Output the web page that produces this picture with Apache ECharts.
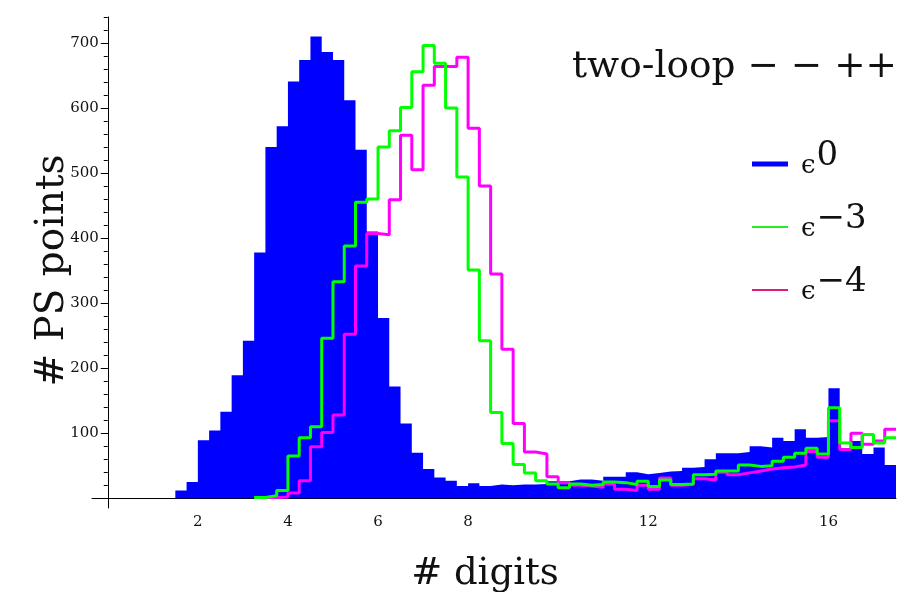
<!DOCTYPE html>
<html lang="en">
<head>
<meta charset="UTF-8">
<title>two-loop digits</title>
<script src="https://cdn.jsdelivr.net/npm/echarts@6/dist/echarts.min.js"></script>
<style>
html,body{margin:0;padding:0;background:#fff}
#main{width:897px;height:592px}
</style>
</head>
<body>
<div id="main"></div>
<script>
// bin edges of the histograms (width 0.25 digits)
var binEdges = [1.5, 1.75, 2, 2.25, 2.5, 2.75, 3, 3.25, 3.5, 3.75, 4, 4.25, 4.5, 4.75, 5, 5.25,
  5.5, 5.75, 6, 6.25, 6.5, 6.75, 7, 7.25, 7.5, 7.75, 8, 8.25, 8.5, 8.75, 9, 9.25,
  9.5, 9.75, 10, 10.25, 10.5, 10.75, 11, 11.25, 11.5, 11.75, 12, 12.25, 12.5, 12.75, 13, 13.25,
  13.5, 13.75, 14, 14.25, 14.5, 14.75, 15, 15.25, 15.5, 15.75, 16, 16.25, 16.5, 16.75, 17, 17.25, 17.5];

// counts per bin, one value per bin (null = empty)
var eps0 = [12, 25, 89, 104, 133, 189, 242, 378, 540, 572, 641, 674, 710, 686, 674, 612,
  536, 410, 277, 172, 115, 70, 45, 32, 27, 19, 23, 19, 21, 20, 21, 21,
  22, 26, 26, 29, 29, 27, 33, 33, 40, 37, 39, 41, 42, 47, 48, 60,
  69, 69, 71, 80, 78, 93, 88, 106, 93, 94, 169, 76, 88, 68, 78, 51];
var eps3 = [null, null, null, null, null, null, null, 1, 4, 12, 65, 93, 110, 246, 333, 388,
  455, 460, 540, 565, 601, 656, 696, 669, 600, 494, 351, 242, 132, 84, 52, 39,
  27, 22, 16, 22, 20, 21, 25, 24, 21, 26, 18, 28, 21, 22, 36, 37,
  42, 42, 51, 49, 50, 57, 63, 69, 77, 68, 139, 85, 78, 98, 85, 93];
var eps4 = [null, null, null, null, null, null, null, null, 1, 2, 8, 27, 79, 101, 128, 252,
  357, 407, 405, 459, 558, 505, 635, 664, 664, 678, 569, 480, 345, 229, 115, 71,
  68, 33, 24, 20, 19, 17, 22, 14, 12, 20, 14, 31, 20, 21, 30, 28,
  40, 36, 39, 42, 45, 47, 48, 51, 72, 63, 119, 75, 100, 83, 88, 106];

var xTicks = [2, 4, 6, 8, 12, 16];
var yTicks = [100, 200, 300, 400, 500, 600, 700];
var yMinorTicks = [];
for (var t = 20; t <= 740; t += 20) yMinorTicks.push(t);

var serif = 'DejaVu Serif';
var sup = {'e0': '0', 'e3': '\u22123', 'e4': '\u22124'};

// x range starts a bit left of 0 so the x axis line pokes out past the y axis
var xMin = -0.35, xMax = 17.5;
var gridLeft = 92, gridRight = 1, chartWidth = 897;
// second y axis (labels, major ticks) has to sit at x = 0 too
var yAxisShift = -(0 - xMin) / (xMax - xMin) * (chartWidth - gridLeft - gridRight);

// step outline: point at every left edge, plus the last right edge
function steps(vals) {
  var pts = [], last = null;
  for (var i = 0; i < vals.length; i++) {
    if (vals[i] == null) continue;
    pts.push([binEdges[i], vals[i]]);
    last = vals[i];
  }
  pts.push([binEdges[binEdges.length - 1], last]);
  return pts;
}

var chart = echarts.init(document.getElementById('main'));
var option = {
  animation: false,
  title: {
    text: 'two-loop \u2212 \u2212 ++',
    right: -5, top: 43,
    textStyle: {fontFamily: serif, fontSize: 37.5, fontWeight: 'normal', color: '#111'}
  },
  // legend sample bars are drawn as rich-text boxes so each can have its own thickness
  legend: {
    orient: 'vertical', left: 747, top: 139, padding: 0,
    icon: 'none', itemWidth: 0, itemHeight: 14, itemGap: 22,
    data: ['e0', 'e3', 'e4'],
    formatter: function (name) { return '{' + name + '| }{e|\u03f5}{s|' + sup[name] + '}'; },
    textStyle: {
      rich: {
        e0: {width: 36, height: 5, lineHeight: 32, backgroundColor: '#0000ff', verticalAlign: 'middle'},
        e3: {width: 36, height: 2, lineHeight: 32, backgroundColor: '#22ee22', verticalAlign: 'middle'},
        e4: {width: 36, height: 2, lineHeight: 32, backgroundColor: '#e3197d', verticalAlign: 'middle'},
        e: {fontFamily: serif, fontSize: 26, color: '#111', verticalAlign: 'bottom', lineHeight: 32, padding: [0, 1, 1, 13]},
        s: {fontFamily: serif, fontSize: 34, color: '#111', verticalAlign: 'bottom', lineHeight: 32, padding: [0, 0, 7, 0]}
      }
    }
  },
  grid: {left: gridLeft, right: gridRight, top: 17, bottom: 84, outerBoundsMode: 'none', containLabel: false},
  xAxis: {
    type: 'value', min: xMin, max: xMax,
    splitLine: {show: false},
    axisLine: {onZero: true, onZeroAxisIndex: 0, lineStyle: {color: '#000', width: 1}},
    axisTick: {inside: true, length: 8, customValues: xTicks, lineStyle: {color: '#000'}},
    axisLabel: {customValues: xTicks, margin: 7, fontFamily: serif, fontSize: 15, color: '#111'},
    name: '# digits', nameLocation: 'middle', nameGap: 48, nameMoveOverlap: false,
    nameTextStyle: {fontFamily: serif, fontSize: 37, color: '#111', padding: [0, 18, 0, 0]}
  },
  yAxis: [
    {
      type: 'value', min: -15, max: 740, position: 'left',
      splitLine: {show: false},
      axisLine: {onZero: true, onZeroAxisIndex: 0, lineStyle: {color: '#000', width: 1}},
      axisTick: {customValues: yMinorTicks, length: 4, lineStyle: {color: '#000'}},
      axisLabel: {show: false}
    },
    {
      type: 'value', min: -15, max: 740, position: 'left', offset: yAxisShift,
      splitLine: {show: false},
      axisLine: {show: false, onZero: false},
      axisTick: {customValues: yTicks, length: 7, lineStyle: {color: '#000'}},
      axisLabel: {customValues: yTicks, margin: 9, fontFamily: serif, fontSize: 15, color: '#111'},
      name: '# PS points', nameLocation: 'middle', nameGap: 35, nameRotate: 90, nameMoveOverlap: false,
      nameTextStyle: {fontFamily: serif, fontSize: 39, color: '#111', padding: [0, 16, 0, 0]}
    }
  ],
  series: [
    {
      name: 'e0', type: 'line', step: 'end', data: steps(eps0), symbol: 'none',
      lineStyle: {width: 0, color: '#0000ff'}, itemStyle: {color: '#0000ff'},
      areaStyle: {color: '#0000ff', opacity: 1}
    },
    {
      name: 'e4', type: 'line', step: 'end', data: steps(eps4), symbol: 'none',
      lineStyle: {width: 3, color: '#ff00ff'}, itemStyle: {color: '#ff00ff'}
    },
    {
      name: 'e3', type: 'line', step: 'end', data: steps(eps3), symbol: 'none',
      lineStyle: {width: 3, color: '#00ff00'}, itemStyle: {color: '#00ff00'}
    }
  ]
};
chart.setOption(option);
</script>
</body>
</html>
